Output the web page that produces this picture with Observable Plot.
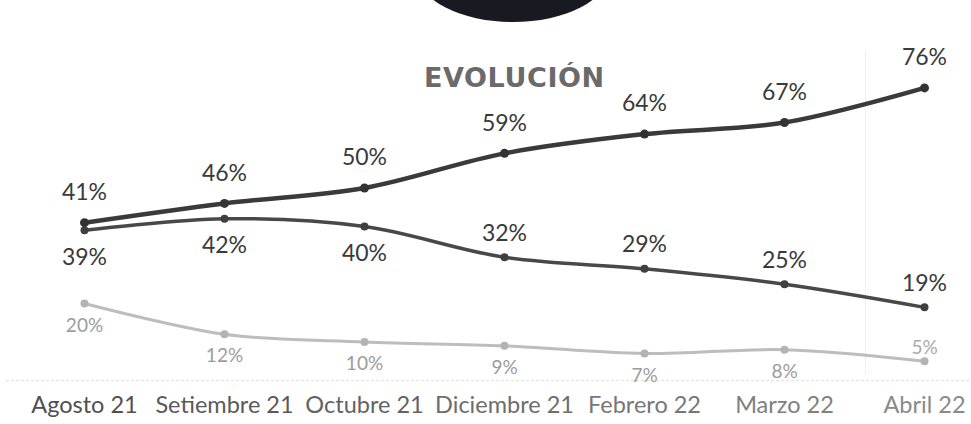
<!DOCTYPE html>
<html>
<head>
<meta charset="utf-8">
<script src="https://cdn.jsdelivr.net/npm/d3@7"></script>
<script src="https://cdn.jsdelivr.net/npm/@observablehq/plot@0.6"></script>
<style>
  html, body { margin: 0; padding: 0; background: #ffffff; }
  #wrap { position: relative; width: 971px; height: 424px; overflow: hidden; background: #fff; }
  #blob { position: absolute; left: 417px; top: -78px; width: 192px; height: 100px; border-radius: 50%; background: #171a21; }
  #title { position: absolute; left: 424px; top: 64px; margin: 0; font: bold 27px "DejaVu Sans", sans-serif; line-height: 1; color: #6a6a6a; letter-spacing: 0.6px; z-index: 2; }
  #vline { position: absolute; left: 865px; top: 52px; height: 322px; border-left: 1px dotted #e2e2e2; }
  #chart { position: absolute; left: 0; top: 0; }
</style>
</head>
<body>
<div id="wrap">
  <div id="blob"></div>
  <div id="vline"></div>
  <div id="chart"></div>
  <h1 id="title">EVOLUCIÓN</h1>
</div>
<script>
const months = ["Agosto 21", "Setiembre 21", "Octubre 21", "Diciembre 21", "Febrero 22", "Marzo 22", "Abril 22"];
const serieAlta = [41, 46, 50, 59, 64, 67, 76];
const serieMedia = [39, 42, 40, 32, 29, 25, 19];
const serieBaja = [20, 12, 10, 9, 7, 8, 5];

const toRows = (vals) => vals.map((v, i) => ({month: months[i], value: v, i}));
const rowsA = toRows(serieAlta);
const rowsB = toRows(serieMedia);
const rowsC = toRows(serieBaja);
const pct = d => d.value + "%";
const fade = d3.interpolateRgb("#505050", "#8a8a8a");

const chart = Plot.plot({
  width: 971,
  height: 424,
  marginLeft: 82,
  marginRight: 46,
  marginTop: 72,
  marginBottom: 44,
  style: {fontFamily: "Lato, sans-serif", background: "transparent"},
  x: {type: "point", domain: months, padding: 0, axis: null},
  y: {domain: [0, 80], axis: null},
  color: {type: "identity"},
  marks: [
    Plot.ruleY([0], {stroke: "#e6e6e6", strokeWidth: 1.5, strokeDasharray: "3,2", insetLeft: -76, insetRight: -44}),
    // light series
    Plot.line(rowsC, {x: "month", y: "value", stroke: "#bdbdbd", strokeWidth: 3, curve: "catmull-rom"}),
    Plot.dot(rowsC, {x: "month", y: "value", r: 4, fill: "#b3b3b3"}),
    // middle series
    Plot.line(rowsB, {x: "month", y: "value", stroke: "#484848", strokeWidth: 3.5, curve: "catmull-rom"}),
    Plot.dot(rowsB, {x: "month", y: "value", r: 4, fill: "#3f3f3f"}),
    // top series
    Plot.line(rowsA, {x: "month", y: "value", stroke: "#3a3a3a", strokeWidth: 4.5, curve: "catmull-rom"}),
    Plot.dot(rowsA, {x: "month", y: "value", r: 4.5, fill: "#333"}),
    // labels
    Plot.text(rowsA, {x: "month", y: "value", text: pct, dy: -30, fontSize: 23, fill: "#3a3a3a"}),
    Plot.text(rowsB, {filter: d => d.i < 3, x: "month", y: "value", text: pct, dy: 27, fontSize: 23, fill: "#3a3a3a"}),
    Plot.text(rowsB, {filter: d => d.i >= 3, x: "month", y: "value", text: pct, dy: -24, fontSize: 23, fill: "#3a3a3a"}),
    Plot.text(rowsC, {filter: d => d.i < 6, x: "month", y: "value", text: pct, dy: 22, fontSize: 19, fill: "#9c9c9c"}),
    Plot.text(rowsC, {filter: d => d.i === 6, x: "month", y: "value", text: pct, dy: -13, fontSize: 19, fill: "#aaaaaa"}),
    // month tick labels
    Plot.text(months, {x: d => d, frameAnchor: "bottom", lineAnchor: "top", dy: 16, fontSize: 23.5,
      fill: (d, i) => fade(i / (months.length - 1))})
  ]
});
document.getElementById("chart").appendChild(chart);
</script>
</body>
</html>
